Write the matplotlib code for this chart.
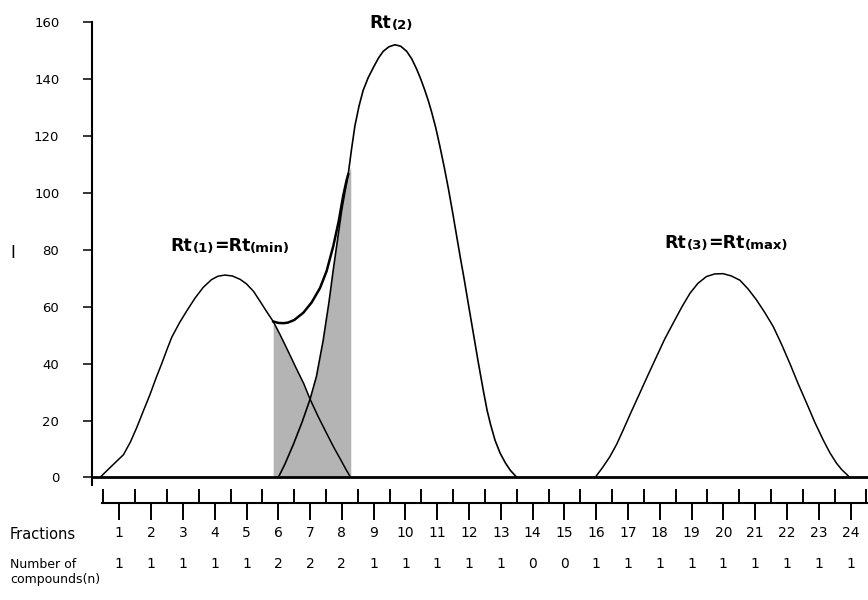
import matplotlib.pyplot as plt
import matplotlib.transforms as mtransforms

plt.rcParams['font.family'] = ['DejaVu Sans']

# fraction numbers and compounds per fraction
fractions = list(range(1, 25))
n_compounds = [1, 1, 1, 1, 1, 2, 2, 2, 1, 1, 1, 1, 1, 0, 0, 1, 1, 1, 1, 1, 1, 1, 1, 1]
fraction_bounds = [k + 0.5 for k in range(0, 25)]
y_ticks = [0, 20, 40, 60, 80, 100, 120, 140, 160]

# peak 1 (Rt(1))
p1_x = [0.39, 0.6, 0.85, 1.13, 1.35, 1.55, 1.76, 1.97, 2.15, 2.33, 2.5, 2.65, 2.9,
        3.12, 3.38, 3.64, 3.9, 4.1, 4.32, 4.55, 4.8, 5.0, 5.22, 5.42, 5.62, 5.84,
        6.05, 6.26, 6.58, 6.8, 7.0, 7.25, 7.52, 7.75, 7.95, 8.12, 8.25]
p1_y = [0, 2.3, 5, 8.0, 12.5, 17.6, 23.5, 29.3, 34.8, 39.9, 45, 49.3, 54.5,
        58.5, 63, 66.8, 69.5, 70.7, 71.1, 70.8, 69.6, 68.0, 65.4, 62, 58.5, 54.8,
        50.3, 45.5, 38, 33, 27.5, 21.5, 15.5, 10.5, 6.5, 3, 0.5]

# peak 2 (Rt(2))
p2_x = [6.0, 6.2, 6.47, 6.75, 7.0, 7.2, 7.41, 7.6, 7.73, 7.87, 7.99, 8.1, 8.2, 8.3,
        8.41, 8.54, 8.67, 8.83, 8.99, 9.15, 9.3, 9.48, 9.67, 9.85, 10.04, 10.2, 10.35,
        10.48, 10.61, 10.72, 10.82, 10.95, 11.08, 11.22, 11.35, 11.47, 11.6, 11.73,
        11.85, 11.97, 12.13, 12.29, 12.45, 12.57, 12.68, 12.82, 12.98, 13.15, 13.3,
        13.44, 13.5]
p2_y = [0, 4.5, 11.5, 19.5, 27.5, 35.5, 48, 62, 73, 84, 93.5, 100.5, 106.5, 115,
        123.5, 130.5, 136, 140.5, 144, 147.3, 149.7, 151.3, 152, 151.5, 149.7, 147, 143.5,
        140, 136, 132.3, 128.5, 123, 116.5, 109, 101.5, 94, 85.5, 77,
        69.5, 61.5, 51, 40.5, 30.5, 23.5, 18.5, 13, 8.5, 5, 2.5,
        0.8, 0]

# summed trace over the overlap
env_x = [5.84, 6.0, 6.16, 6.3, 6.5, 6.79, 7.05, 7.31, 7.52, 7.73, 7.9, 8.04, 8.15, 8.2]
env_y = [54.8, 54.3, 54.2, 54.4, 55.3, 57.9, 61.5, 66.5, 72.5, 81.3, 90, 98.9, 104.5, 106.5]

# peak 3 (Rt(3))
p3_x = [16.0, 16.2, 16.43, 16.65, 16.85, 17.1, 17.37, 17.63, 17.9, 18.15, 18.42, 18.7,
        18.95, 19.2, 19.47, 19.73, 19.99, 20.25, 20.52, 20.78, 21.04, 21.3, 21.57,
        21.83, 22.09, 22.35, 22.62, 22.88, 23.14, 23.35, 23.56, 23.72, 23.87, 23.95]
p3_y = [0.5, 3.5, 7.3, 11.8, 16.7, 23, 29.6, 36, 42.5, 48.5, 54.2, 60,
        64.7, 68.2, 70.6, 71.5, 71.6, 70.8, 69.3, 66.2, 62.4, 58, 53,
        46.8, 40.1, 33, 26.1, 19.3, 13.2, 8.7, 5, 2.8, 1.2, 0.3]

# shaded overlap (top edge follows the higher of the two peaks)
shade_x = [5.84, 6.05, 6.26, 6.58, 6.8, 7.0, 7.2, 7.41, 7.6, 7.73, 7.87, 7.99, 8.1, 8.2, 8.28]
shade_y = [54.8, 50.3, 45.5, 38, 33, 27.5, 35.5, 48, 62, 73, 84, 93.5, 100.5, 106.5, 109]

W, H = 868, 600
fig = plt.figure(figsize=(W / 100, H / 100), dpi=100)

x_lim = (0.14, 24.55)
ax = fig.add_axes([92 / W, (H - 484.6) / H, 1 - 92 / W, (484.6 - 22) / H])
ax.set_xlim(*x_lim)
ax.set_ylim(-2.5, 160)

ax.fill_between(shade_x, 0, shade_y, color='#b4b4b4', lw=0, zorder=1)
ax.plot(p1_x, p1_y, color='black', lw=1.1, zorder=3)
ax.plot(p2_x, p2_y, color='black', lw=1.2, zorder=3)
ax.plot(env_x, env_y, color='black', lw=1.8, zorder=3)
ax.plot(p3_x, p3_y, color='black', lw=1.1, zorder=3)

for s in ['top', 'right']:
    ax.spines[s].set_visible(False)
ax.spines['bottom'].set_position(('data', 0))
ax.spines['bottom'].set_linewidth(2.0)
ax.spines['left'].set_linewidth(1.5)
ax.set_xticks([])
ax.set_yticks(y_ticks)
ax.tick_params(axis='y', direction='out', length=6.5, width=1.1, pad=17, labelsize=9.5)


def rt_label(x, y, parts):
    prev = None
    for txt, size in parts:
        if prev is None:
            prev = ax.text(x, y, txt, fontsize=size, fontweight='bold', ha='left', va='baseline')
        else:
            prev = ax.annotate(txt, xy=(1, 0), xycoords=prev, fontsize=size,
                               fontweight='bold', ha='left', va='bottom')


rt_label(8.88, 157.9, [('Rt', 12.5), ('(2)', 9.5)])
rt_label(2.62, 79.6, [('Rt', 12.5), ('(1)', 9.5), ('=Rt', 12.5), ('(min)', 9.5)])
rt_label(18.16, 80.6, [('Rt', 12.5), ('(3)', 9.5), ('=Rt', 12.5), ('(max)', 9.5)])

fig.text(12.7 / W, (H - 253) / H, 'I', fontsize=12, ha='center', va='center')

# fraction ruler
rax = fig.add_axes([92 / W, (H - 503) / H, 1 - 92 / W, 0.02])
rax.set_xlim(*x_lim)
rax.patch.set_visible(False)
for s in ['top', 'right', 'left']:
    rax.spines[s].set_visible(False)
rax.spines['bottom'].set_linewidth(1.5)
rax.spines['bottom'].set_bounds(0.45, x_lim[1])
rax.set_yticks([])
rax.set_xticks(fractions)
rax.set_xticklabels([str(f) for f in fractions])
rax.set_xticks(fraction_bounds, minor=True)
rax.tick_params(axis='x', which='major', direction='out', length=12.5, width=1.4,
                pad=4, labelsize=10)
rax.tick_params(axis='x', which='minor', direction='in', length=10, width=1.4)

fig.text(10 / W, (H - 539) / H, 'Fractions', fontsize=10.5, ha='left', va='baseline')
fig.text(10 / W, (H - 568.5) / H, 'Number of', fontsize=9, ha='left', va='baseline')
fig.text(10 / W, (H - 583) / H, 'compounds(n)', fontsize=9, ha='left', va='baseline')

row = mtransforms.blended_transform_factory(rax.transData, fig.transFigure)
for f, n in zip(fractions, n_compounds):
    rax.text(f, (H - 568.5) / H, str(n), transform=row, fontsize=10,
             ha='center', va='baseline')

fig.savefig('out.png', dpi=100)
